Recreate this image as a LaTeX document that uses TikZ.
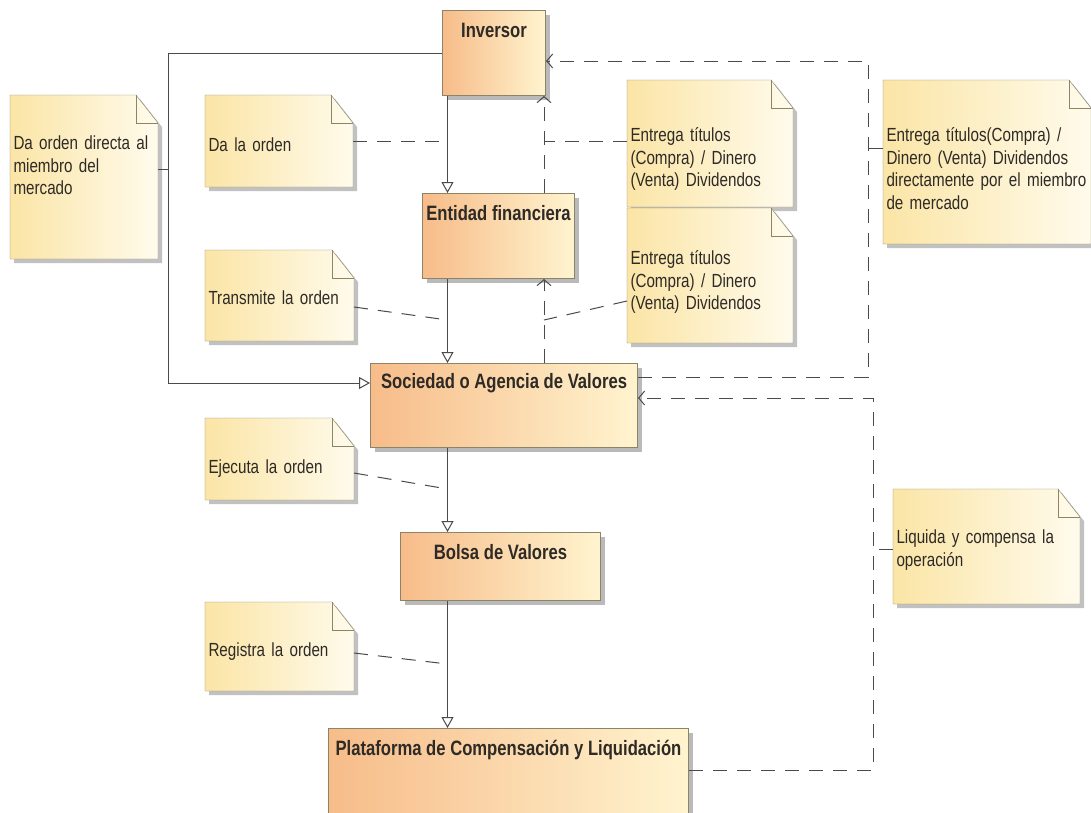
\documentclass[tikz,border=0pt]{standalone}
\usepackage{fontspec}
\setmainfont{Liberation Sans}[FakeStretch=0.8]
\usepackage{tikz}
\usetikzlibrary{arrows.meta,shadows,backgrounds}

\definecolor{boxL}{HTML}{F7BC89}
\definecolor{boxR}{HTML}{FFF4CF}
\definecolor{noteL}{HTML}{FBE5A6}
\definecolor{noteR}{HTML}{FFFBEC}
\definecolor{edge}{HTML}{8C8466}
\definecolor{wire}{HTML}{4A4A4A}
\definecolor{ink}{HTML}{2E2A26}

\newcommand\notefont{\fontsize{19}{22.5}\selectfont\spaceskip=3.4pt plus 1pt minus 1pt\relax}

\begin{document}
\begin{tikzpicture}[ x=1pt, y=-1pt, line width=1pt,
  box/.style={draw=edge, left color=boxL, right color=boxR, anchor=north west,
    inner sep=0pt, text height=27pt, text=ink,
    font=\fontsize{20.8}{24}\selectfont\bfseries,
    drop shadow={shadow xshift=4pt, shadow yshift=-4pt, fill=black!45, opacity=.6}},
  note/.style={anchor=north west, inner xsep=3pt, inner ysep=0pt, align=left,
    text=ink, font=\notefont},
  notebody/.style={draw=edge, left color=noteL, right color=noteR},
  gen/.style={draw=wire, -{Triangle[open,length=11pt,width=12pt]}},
  flow/.style={draw=wire, dash pattern=on 14pt off 10pt, -{Straight Barb[length=6pt,width=14pt]}},
  link/.style={draw=wire, dash pattern=on 14pt off 10pt} ]

\useasboundingbox (0,0) rectangle (1091,812);

%Entities
\node[box, minimum width=103pt, text depth=58pt] (inv) at (442,10) {Inversor};
\node[box, minimum width=152pt, text depth=58pt] (ent) at (422,193) {Entidad financiera};
\node[box, minimum width=267pt, text height=25pt, text depth=59pt] (soc) at (370,363) {Sociedad o Agencia de Valores};
\node[box, minimum width=200pt, text depth=41pt] (bol) at (400,532) {Bolsa de Valores};
\node[box, minimum width=360pt, text depth=70pt] (pla) at (328,728) {Plataforma de Compensación y Liquidación};

%Notes
\node[note, text width=141pt, text height=54pt, text depth=109pt] (nDirecta) at (10,95)
  {Da orden directa al\\miembro del\\mercado};
\node[note, text width=141pt, text height=56pt, text depth=35pt] (nDa) at (205,95) {Da la orden};
\node[note, text width=142pt, text height=54pt, text depth=36pt] (nTrans) at (205,250) {Transmite la orden};
\node[note, text width=142pt, text height=55pt, text depth=26pt] (nEjec) at (205,418) {Ejecuta la orden};
\node[note, text width=142pt, text height=54pt, text depth=34pt] (nReg) at (205,602) {Registra la orden};
\node[note, text width=159pt, text height=61pt, text depth=65pt] (nEntA) at (627,80)
  {Entrega títulos\\(Compra) / Dinero\\(Venta) Dividendos};
\node[note, text width=159pt, text height=56pt, text depth=78pt] (nEntB) at (627,208)
  {Entrega títulos\\(Compra) / Dinero\\(Venta) Dividendos};
\node[note, text width=201pt, text height=61pt, text depth=102pt] (nBig) at (883,80)
  {Entrega títulos(Compra) /\\Dinero (Venta) Dividendos\\\mbox{directamente por el miembro}\\de mercado};
\node[note, text width=180pt, text height=54pt, text depth=60pt] (nLiq) at (893,489)
  {Liquida y compensa la\\operación};

\begin{scope}[on background layer]
\fill[white] (0,0) rectangle (1091,812);
\foreach \n in {nDirecta,nDa,nTrans,nEjec,nReg,nEntA,nEntB,nBig,nLiq}{
  \fill[black!40, opacity=.6] ([shift={(4,4)}]\n.north west) -- ([shift={(-18,4)}]\n.north east)
    -- ([shift={(4,32)}]\n.north east) -- ([shift={(4,4)}]\n.south east) -- ([shift={(4,4)}]\n.south west) -- cycle;
  \shade[notebody] (\n.north west) -- ([shift={(-22,0)}]\n.north east) -- ([shift={(0,28)}]\n.north east)
    -- (\n.south east) -- (\n.south west) -- cycle;
  \draw[edge] ([shift={(-22,0)}]\n.north east) |- ([shift={(0,28)}]\n.north east);
}
\end{scope}

%Helper points
\path (447.5,0) coordinate (xMain);
\path (544,0) coordinate (xBack);
\path (168,383) coordinate (kLeft);
\path (868,61) coordinate (kRight);
\path (873,398) coordinate (kFar);
\path (447.5,320) coordinate (mTrans);
\path (544,320) coordinate (mEntB);
\path (447.5,489) coordinate (mEjec);
\path (447.5,664) coordinate (mReg);

%Order path
\draw[gen] (inv.west) -| (kLeft) -- ([shift={(0,20)}]soc.north west);
\draw[gen] (xMain |- inv.south) -- (xMain |- ent.north);
\draw[gen] (xMain |- ent.south) -- (xMain |- soc.north);
\draw[gen] (xMain |- soc.south) -- (xMain |- bol.north);
\draw[gen] (xMain |- bol.south) -- (xMain |- pla.north);

%Return path
\draw[flow] (xBack |- soc.north) -- (xBack |- ent.south);
\draw[flow] (xBack |- ent.north) -- (xBack |- inv.south);
\draw[flow] ([shift={(0,14)}]soc.north east) -| (kRight) -- ([shift={(0,51)}]inv.north east);
\draw[flow] ([shift={(0,42)}]pla.north east) -| (kFar) -- ([shift={(0,35)}]soc.north east);

%Note links
\path ([shift={(0,74)}]nDirecta.north east) coordinate (aDirecta);
\path ([shift={(0,46)}]nDa.north east) coordinate (aDa);
\path ([shift={(0,61)}]nEntA.north west) coordinate (aEntA);
\path ([shift={(0,57)}]nTrans.north east) coordinate (aTrans);
\path ([shift={(0,93)}]nEntB.north west) coordinate (aEntB);
\path ([shift={(0,55)}]nEjec.north east) coordinate (aEjec);
\path ([shift={(0,51)}]nReg.north east) coordinate (aReg);
\path ([shift={(0,68)}]nBig.north west) coordinate (aBig);
\path ([shift={(0,60)}]nLiq.north west) coordinate (aLiq);

\draw[link] (aDirecta) -- (kLeft |- aDirecta);
\draw[link] (aDa) -- (xMain |- aDa);
\draw[link] (aEntA) -- (xBack |- aEntA);
\draw[link] (aTrans) -- (mTrans);
\draw[link] (aEntB) -- (mEntB);
\draw[link] (aEjec) -- (mEjec);
\draw[link] (aReg) -- (mReg);
\draw[link] (aBig) -- (kRight |- aBig);
\draw[link] (aLiq) -- (kFar |- aLiq);

\end{tikzpicture}
\end{document}
